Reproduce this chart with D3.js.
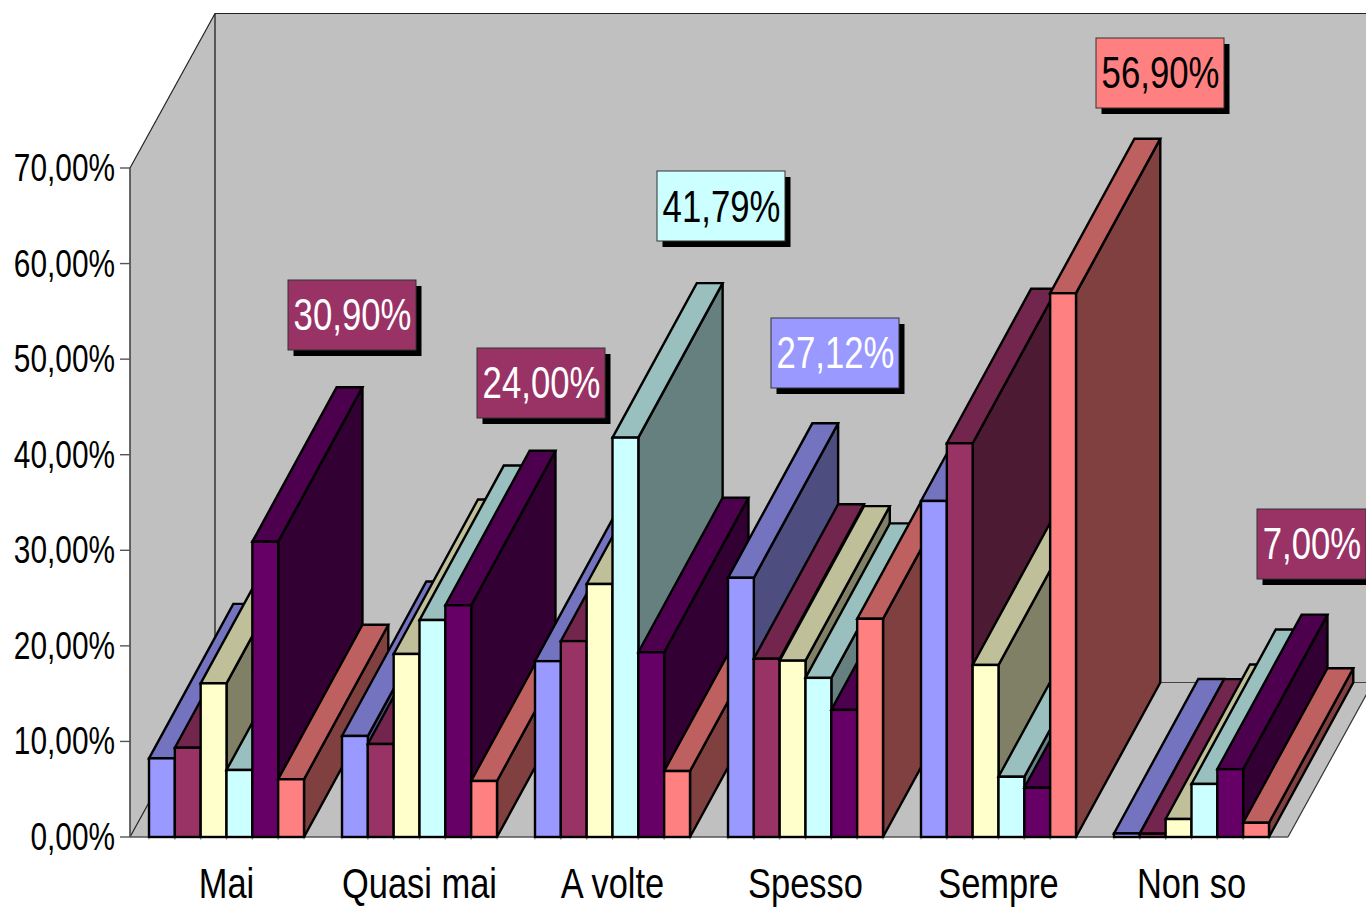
<!DOCTYPE html>
<html><head><meta charset="utf-8">
<script src="https://cdnjs.cloudflare.com/ajax/libs/d3/7.8.5/d3.min.js"></script>
<style>html,body{margin:0;padding:0;background:#fff;overflow:hidden}svg{display:block}text{font-family:"Liberation Sans",Arial,sans-serif}</style>
</head><body><svg id="c" width="1366" height="908"></svg>
<script>
const categories = ["Mai","Quasi mai","A volte","Spesso","Sempre","Non so"];
const yTicks = [0,10,20,30,40,50,60,70];
const seriesA = [8.23,10.57,18.4,27.12,35.16,0.37];
const seriesB = [9.34,9.73,20.5,18.65,41.2,0.35];
const seriesC = [16.08,19.15,26.47,18.45,18.0,1.88];
const seriesD = [7.01,22.7,41.79,16.65,6.3,5.55];
const seriesE = [30.9,24.25,19.33,13.3,5.15,7.1];
const seriesF = [6.04,5.86,6.9,22.83,56.9,1.49];
const seriesValues = [seriesA,seriesB,seriesC,seriesD,seriesE,seriesF];
const seriesColors = ["#9999FF","#993366","#FFFFCC","#CCFFFF","#660066","#FF8080"];
const calloutValues = [30.9,24.0,41.79,27.12,56.9,7.0];
const calloutFill = ["#993366","#993366","#CCFFFF","#9999FF","#FF8080","#993366"];
const calloutText = ["#fff","#fff","#000","#fff","#000","#fff"];
const calloutBox = [[288,280,128],[477,348,128],[657,171,128],[771,318,128],[1096,38,128],[1257,509,109]];
const calloutBaseline = [49.7,49.7,50.5,49.7,49.7,49.7];

const svg = d3.select("#c");
const DX = 85, DY = -154.5, BARDX = 84.3, SX = 0.776, SXCAT = 0.82;
const y = d3.scaleLinear().domain([0,70]).range([837,168]);
const xGroup = d3.scaleBand().domain(categories).range([130,1288]).paddingInner(0.1969).paddingOuter(0.0985);
const xBar = d3.scaleBand().domain(d3.range(6)).range([0,xGroup.bandwidth()]);
const pct = v => d3.format(".2f")(v).replace(".",",")+"%";
const pts = a => a.map(p=>p.join(",")).join(" ");
const label = (g,txt,x,yy,size,anchor,fill,sx) => g.append("text")
  .attr("transform",`translate(${x},${yy}) scale(${sx||SX},1)`)
  .attr("text-anchor",anchor).attr("font-size",size).attr("fill",fill||"#000").text(txt);

const x0=130,x1=1288,yb=y(0),yt=y(70);
// walls and floor
svg.append("polygon").attr("points",pts([[x0,yt],[x0+DX,yt+DY],[1366,yt+DY],[1366,yb+DY],[x0+DX,yb+DY],[x0,yb]])).attr("fill","#C0C0C0");
svg.append("polygon").attr("points",pts([[x0,yb],[x0+DX,yb+DY],[x1+DX,yb+DY],[x1,yb]])).attr("fill","#C0C0C0");
const edge=(a,b,c,w)=>svg.append("line").attr("x1",a[0]).attr("y1",a[1]).attr("x2",b[0]).attr("y2",b[1]).attr("stroke",c).attr("stroke-width",w);
edge([x0,yt],[x0+DX,yt+DY],"#222",1.2);
edge([x0+DX,yt+DY],[1366,yt+DY],"#222",1.2);
edge([x0+DX,yt+DY],[x0+DX,yb+DY],"#111",1.2);
edge([x0,yb],[x0+DX,yb+DY],"#222",1.2);
edge([x0+DX,yb+DY],[1366,yb+DY],"#444",1);
edge([x1,yb],[x1+DX,yb+DY],"#333",1.2);

// axes
edge([x0,yt],[x0,yb],"#444",1.6);
edge([x0,yb],[x1,yb],"#555",1.4);
yTicks.forEach(t=>{
  edge([x0-10,y(t)],[x0,y(t)],"#555",1.4);
  label(svg,pct(t),115,y(t)+13,38,"end","#000",0.785);
});

// bars
const shade=(c,k)=>{const r=d3.rgb(c);return d3.rgb(r.r*k,r.g*k,r.b*k).formatHex();};
categories.forEach((cat,i)=>{
  seriesValues.forEach((vals,s)=>{
    const l=xGroup(cat)+xBar(s), r=l+xBar.bandwidth(), t=y(vals[i]), b=y(0);
    edge([l,b],[l,b+2.5],"#999",1);
    edge([r,b],[r,b+2.5],"#999",1);
    const g=svg.append("g").attr("stroke","#000").attr("stroke-width",2.4).attr("stroke-linejoin","miter");
    g.append("polygon").attr("points",pts([[r,t],[r+BARDX,t+DY],[r+BARDX,b+DY],[r,b]])).attr("fill",shade(seriesColors[s],0.5));
    g.append("polygon").attr("points",pts([[l,t],[l+BARDX,t+DY],[r+BARDX,t+DY],[r,t]])).attr("fill",shade(seriesColors[s],0.75));
    g.append("rect").attr("x",l).attr("y",t).attr("width",r-l).attr("height",b-t).attr("fill",seriesColors[s]);
  });
  label(svg,cat,xGroup(cat)+xGroup.bandwidth()/2,898,42,"middle","#000",SXCAT);
});

// callouts
calloutValues.forEach((v,k)=>{
  const [bx,by,bw]=calloutBox[k], bh=70;
  svg.append("rect").attr("x",bx+5.5).attr("y",by+6).attr("width",bw).attr("height",bh).attr("fill","#000");
  svg.append("rect").attr("x",bx).attr("y",by).attr("width",bw).attr("height",bh).attr("fill",calloutFill[k]).attr("stroke","#333").attr("stroke-width",1);
  label(svg,pct(v),bx+bw/2+0.5,by+calloutBaseline[k],45,"middle",calloutText[k],0.772);
});
</script></body></html>
